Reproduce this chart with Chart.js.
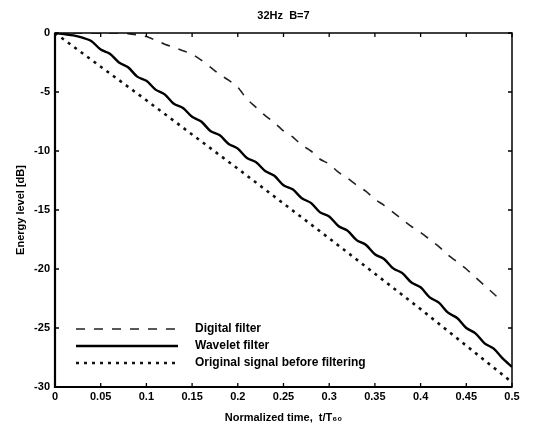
<!DOCTYPE html>
<html lang="en">
<head>
    <meta charset="UTF-8">
    <title>32Hz B=7</title>
    <script src="https://cdn.jsdelivr.net/npm/chart.js"></script>
    <style>
        body {
            margin: 0;
            padding: 0;
            background: #fff;
        }
        canvas {
            display: block;
        }
    </style>
</head>
<body>
    <canvas id="chart" width="553" height="440"></canvas>
    <script>
        // normalized time t/T60, step 0.01
        const times = [0, 0.01, 0.02, 0.03, 0.04, 0.05, 0.06, 0.07, 0.08, 0.09,
            0.1, 0.11, 0.12, 0.13, 0.14, 0.15, 0.16, 0.17, 0.18, 0.19,
            0.2, 0.21, 0.22, 0.23, 0.24, 0.25, 0.26, 0.27, 0.28, 0.29,
            0.3, 0.31, 0.32, 0.33, 0.34, 0.35, 0.36, 0.37, 0.38, 0.39,
            0.4, 0.41, 0.42, 0.43, 0.44, 0.45, 0.46, 0.47, 0.48, 0.49, 0.5];

        // energy level [dB]
        const digitalFilter = [0, 0, 0, 0, 0, 0, 0, 0, -0.05, -0.15,
            -0.3, -0.6, -0.95, -1.2, -1.5, -1.8, -2.3, -2.9, -3.5, -4.0,
            -4.6, -5.6, -6.3, -7.0, -7.6, -8.3, -8.8, -9.5, -10.0, -10.7,
            -11.1, -11.8, -12.3, -12.9, -13.4, -14.1, -14.6, -15.2, -15.8, -16.4,
            -16.9, -17.5, -18.1, -18.8, -19.4, -20.0, -20.7, -21.4, -22.1, -22.8];

        const waveletFilter = [0, -0.1, -0.2, -0.4, -0.7, -1.4, -1.75, -2.5, -2.9, -3.7,
            -4.05, -4.8, -5.2, -6.0, -6.35, -7.1, -7.5, -8.3, -8.65, -9.4,
            -9.8, -10.6, -10.95, -11.7, -12.1, -12.9, -13.25, -14.0, -14.4, -15.2,
            -15.55, -16.35, -16.75, -17.55, -17.95, -18.75, -19.15, -19.95, -20.35, -21.15,
            -21.55, -22.4, -22.85, -23.7, -24.15, -25.0, -25.45, -26.3, -26.75, -27.6, -28.3];

        const originalTimes = [0, 0.1, 0.2, 0.3, 0.4, 0.5];
        const originalSignal = [0, -5.7, -11.5, -17.4, -23.4, -29.6];

        const xTicks = [0, 0.05, 0.1, 0.15, 0.2, 0.25, 0.3, 0.35, 0.4, 0.45, 0.5];
        const yTicks = [0, -5, -10, -15, -20, -25, -30];

        const seriesNames = ['Digital filter', 'Wavelet filter', 'Original signal before filtering'];

        const FONT = "'Liberation Sans', Arial, sans-serif";

        function toPoints(xs, ys) {
            return ys.map((y, i) => ({ x: xs[i], y: y }));
        }

        // box + inward ticks like matlab
        const framePlugin = {
            id: 'frame',
            afterDatasetsDraw(chart) {
                const { ctx, chartArea: a, scales } = chart;
                ctx.save();
                ctx.strokeStyle = '#000';
                ctx.lineWidth = 1.5;
                ctx.strokeRect(a.left, a.top, a.right - a.left, a.bottom - a.top);
                ctx.lineWidth = 2.2;
                ctx.beginPath();
                ctx.moveTo(a.left, a.top);
                ctx.lineTo(a.left, a.bottom);
                ctx.lineTo(a.right, a.bottom);
                ctx.stroke();
                ctx.lineWidth = 1.3;
                ctx.beginPath();
                xTicks.forEach(v => {
                    const px = scales.x.getPixelForValue(v);
                    ctx.moveTo(px, a.bottom); ctx.lineTo(px, a.bottom - 4);
                    ctx.moveTo(px, a.top); ctx.lineTo(px, a.top + 4);
                });
                yTicks.forEach(v => {
                    const py = scales.y.getPixelForValue(v);
                    ctx.moveTo(a.left, py); ctx.lineTo(a.left + 4, py);
                    ctx.moveTo(a.right, py); ctx.lineTo(a.right - 4, py);
                });
                ctx.stroke();
                ctx.restore();
            }
        };

        // legend sits inside the plot, lower left, no box
        const legendPlugin = {
            id: 'insideLegend',
            afterDraw(chart) {
                const { ctx, chartArea: a } = chart;
                const rows = [a.bottom - 58, a.bottom - 41, a.bottom - 24];
                ctx.save();
                chart.data.datasets.forEach((ds, i) => {
                    const y = rows[i];
                    ctx.beginPath();
                    ctx.strokeStyle = ds.borderColor;
                    ctx.lineWidth = ds.borderWidth;
                    ctx.setLineDash(ds.borderDash || []);
                    ctx.moveTo(a.left + 21, y);
                    ctx.lineTo(a.left + 123, y);
                    ctx.stroke();
                    ctx.setLineDash([]);
                    ctx.fillStyle = '#000';
                    ctx.font = 'bold 12px ' + FONT;
                    ctx.textBaseline = 'middle';
                    ctx.textAlign = 'left';
                    ctx.fillText(seriesNames[i], a.left + 140, y);
                });
                ctx.restore();
            }
        };

        const ctx = document.getElementById('chart').getContext('2d');
        new Chart(ctx, {
            type: 'line',
            data: {
                datasets: [
                    {
                        label: seriesNames[0],
                        data: toPoints(times, digitalFilter),
                        borderColor: '#222',
                        borderWidth: 1.6,
                        borderDash: [9, 9],
                        tension: 0.2
                    },
                    {
                        label: seriesNames[1],
                        data: toPoints(times, waveletFilter),
                        borderColor: '#000',
                        borderWidth: 2.4,
                        tension: 0.3
                    },
                    {
                        label: seriesNames[2],
                        data: toPoints(originalTimes, originalSignal),
                        borderColor: '#111',
                        borderWidth: 2.6,
                        borderDash: [3, 5],
                        tension: 0
                    }
                ]
            },
            options: {
                responsive: false,
                devicePixelRatio: 1,
                animation: false,
                elements: { point: { radius: 0 } },
                layout: { padding: { left: 10, right: 41, top: 0, bottom: 0 } },
                plugins: {
                    legend: { display: false },
                    tooltip: { enabled: false },
                    title: {
                        display: true,
                        text: '32Hz  B=7',
                        fullSize: false,
                        color: '#000',
                        font: { family: FONT, size: 11, weight: 'bold' },
                        padding: { top: 9, bottom: 10.8 }
                    }
                },
                scales: {
                    x: {
                        type: 'linear',
                        min: 0,
                        max: 0.5,
                        grid: { display: false, drawTicks: false },
                        border: { display: false },
                        afterBuildTicks: s => { s.ticks = xTicks.map(v => ({ value: v })); },
                        afterFit: s => { s.height = 53; },
                        ticks: {
                            color: '#000',
                            padding: 3,
                            maxRotation: 0,
                            autoSkip: false,
                            font: { family: FONT, size: 11, weight: 'bold' },
                            callback: v => String(v)
                        },
                        title: {
                            display: true,
                            text: 'Normalized time,  t/T\u2086\u2080',
                            color: '#000',
                            font: { family: FONT, size: 11, weight: 'bold' },
                            padding: { top: 0, bottom: 15 }
                        }
                    },
                    y: {
                        min: -30,
                        max: 0,
                        grid: { display: false, drawTicks: false },
                        border: { display: false },
                        afterBuildTicks: s => { s.ticks = yTicks.map(v => ({ value: v })); },
                        afterFit: s => { s.width = 45; },
                        ticks: {
                            color: '#000',
                            padding: 5,
                            autoSkip: false,
                            font: { family: FONT, size: 11, weight: 'bold' },
                            callback: v => String(v)
                        },
                        title: {
                            display: true,
                            text: 'Energy level [dB]',
                            color: '#000',
                            font: { family: FONT, size: 11, weight: 'bold' },
                            padding: { top: 4, bottom: 0 }
                        }
                    }
                }
            },
            plugins: [framePlugin, legendPlugin]
        });
    </script>
</body>
</html>
